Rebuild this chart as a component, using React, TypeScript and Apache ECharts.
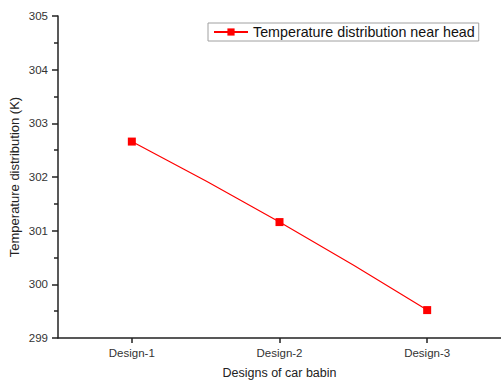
import React, { useEffect, useRef } from "react";
import * as echarts from "echarts";

const categories = ["Design-1", "Design-2", "Design-3"];
const temperatures = [302.66, 301.16, 299.52];
const seriesName = "Temperature distribution near head";
const yMin = 299;
const yMax = 305;

export default function App() {
  const ref = useRef<HTMLDivElement>(null);
  useEffect(() => {
    if (!ref.current) return;
    const chart = echarts.init(ref.current, undefined, { renderer: "svg" });
    const font = "'Liberation Sans', Arial, sans-serif";
    chart.setOption({
      animation: false,
      backgroundColor: "#ffffff",
      grid: { left: 58, right: 0, top: 16, bottom: 43, containLabel: false, outerBoundsMode: "none" },
      legend: {
        left: 208,
        top: 23,
        padding: [2, 4, 2, 5],
        borderColor: "#a0a0a0",
        borderWidth: 1,
        itemWidth: 34,
        itemHeight: 9,
        itemGap: 5,
        textStyle: { fontFamily: font, fontSize: 14.3, color: "#111" },
        data: [seriesName],
      },
      xAxis: {
        type: "category",
        data: categories,
        boundaryGap: true,
        name: "Designs of car babin",
        nameLocation: "middle",
        nameGap: 28,
        nameTextStyle: { fontFamily: font, fontSize: 12.5, color: "#222" },
        axisLine: { show: true, lineStyle: { color: "#222", width: 1.5 } },
        axisTick: { show: true, alignWithLabel: true, inside: false, length: 5, lineStyle: { color: "#222", width: 1.5 } },
        axisLabel: { fontFamily: font, fontSize: 11.5, color: "#333", margin: 9 },
        splitLine: { show: false },
      },
      yAxis: {
        type: "value",
        min: yMin,
        max: yMax,
        interval: 1,
        name: "Temperature distribution (K)",
        nameLocation: "middle",
        nameGap: 37,
        nameMoveOverlap: false,
        nameRotate: 90,
        nameTextStyle: { fontFamily: font, fontSize: 13, color: "#222" },
        axisLine: { show: true, lineStyle: { color: "#222", width: 1.5 } },
        axisTick: { show: true, inside: false, length: 6, lineStyle: { color: "#222", width: 1.5 } },
        minorTick: { show: true, splitNumber: 2, length: 4, lineStyle: { color: "#222", width: 1.5 } },
        axisLabel: { fontFamily: font, fontSize: 11.5, color: "#333", margin: 10 },
        splitLine: { show: false },
        minorSplitLine: { show: false },
      },
      series: [
        {
          name: seriesName,
          type: "line",
          data: temperatures,
          smooth: true,
          symbol: "rect",
          symbolSize: 8,
          showSymbol: true,
          lineStyle: { color: "#ff0000", width: 1.2 },
          itemStyle: { color: "#ff0000" },
        },
      ],
    });
    return () => chart.dispose();
  }, []);
  return (
    <div
      ref={ref}
      style={{ position: "fixed", left: 0, top: 0, width: 501, height: 381, background: "#fff" }}
    />
  );
}
